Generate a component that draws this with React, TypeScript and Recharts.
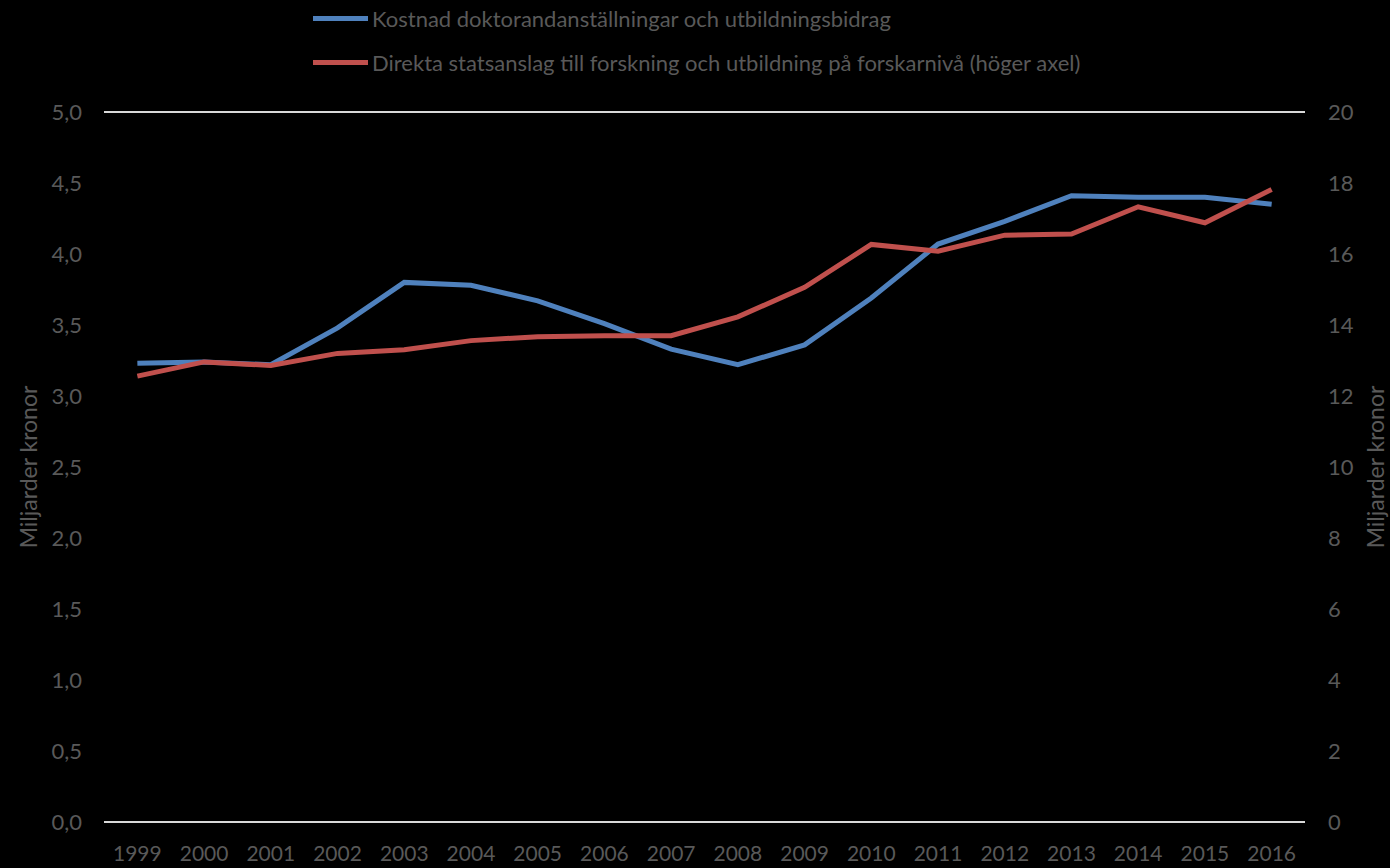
import { LineChart, Line, XAxis, YAxis, CartesianGrid, Legend } from "recharts";

// Values
const years = [
  "1999", "2000", "2001", "2002", "2003", "2004", "2005", "2006", "2007",
  "2008", "2009", "2010", "2011", "2012", "2013", "2014", "2015", "2016",
];

// Left axis, miljarder kronor
const kostnad = [
  3.23, 3.24, 3.22, 3.48, 3.8, 3.78, 3.67, 3.51, 3.33,
  3.22, 3.36, 3.69, 4.07, 4.23, 4.41, 4.4, 4.4, 4.35,
];

// Right axis, miljarder kronor
const statsanslag = [
  12.56, 12.96, 12.86, 13.2, 13.3, 13.56, 13.67, 13.7, 13.7,
  14.23, 15.06, 16.27, 16.08, 16.53, 16.56, 17.33, 16.88, 17.82,
];

const leftTicks = [0, 0.5, 1, 1.5, 2, 2.5, 3, 3.5, 4, 4.5, 5];
const rightTicks = [0, 2, 4, 6, 8, 10, 12, 14, 16, 18, 20];

const seriesNames = [
  "Kostnad doktorandanställningar och utbildningsbidrag",
  "Direkta statsanslag till forskning och utbildning på forskarnivå (höger axel)",
];
const axisTitle = "Miljarder kronor";

const BLUE = "#4F81BD";
const RED = "#C0504D";
const TEXT = "#595959";
const FONT = "Lato, 'Liberation Sans', sans-serif";

const data = years.map((year, i) => ({
  year,
  kostnad: kostnad[i],
  statsanslag: statsanslag[i],
}));

function LegendBox() {
  const items = [
    { name: seriesNames[0], color: BLUE },
    { name: seriesNames[1], color: RED },
  ];
  return (
    <div style={{ fontFamily: FONT, fontSize: 22, color: TEXT }}>
      {items.map((it, i) => (
        <div
          key={it.name}
          style={{ display: "flex", alignItems: "center", height: 36, marginTop: i === 0 ? 0 : 8 }}
        >
          <span
            style={{ display: "inline-block", width: 55, height: 5, background: it.color, marginRight: 4 }}
          />
          <span>{it.name}</span>
        </div>
      ))}
    </div>
  );
}

function AxisTitle({ viewBox, cx }: { viewBox?: any; cx: number }) {
  if (!viewBox) return null;
  const y = viewBox.y + viewBox.height / 2;
  return (
    <text
      x={cx}
      y={y}
      transform={`rotate(-90, ${cx}, ${y})`}
      textAnchor="middle"
      dominantBaseline="central"
      fill={TEXT}
      fontFamily={FONT}
      fontSize={23}
    >
      {axisTitle}
    </text>
  );
}

export default function App() {
  return (
    <div style={{ position: "absolute", left: 0, top: 0, width: 1390, height: 868, background: "#000" }}>
      <LineChart
        width={1390}
        height={868}
        data={data}
        margin={{ top: 112, right: 0, bottom: 6, left: 0 }}
      >
        <CartesianGrid vertical={false} stroke="#D9D9D9" strokeWidth={2} />
        <XAxis
          dataKey="year"
          scale="band"
          height={40}
          tickLine={false}
          axisLine={false}
          interval={0}
          tickMargin={18}
          tick={{ fill: TEXT, fontSize: 21, fontFamily: FONT }}
        />
        <YAxis
          yAxisId="left"
          width={104}
          domain={[0, 5]}
          ticks={leftTicks}
          tickFormatter={(v: number) => v.toFixed(1).replace(".", ",")}
          tickLine={false}
          axisLine={false}
          tickSize={0}
          tickMargin={22}
          tick={{ fill: TEXT, fontSize: 22, fontFamily: FONT }}
          label={<AxisTitle cx={28} />}
        />
        <YAxis
          yAxisId="right"
          orientation="right"
          width={85}
          domain={[0, 20]}
          ticks={rightTicks}
          tickLine={false}
          axisLine={false}
          tickSize={0}
          tickMargin={23}
          tick={{ fill: TEXT, fontSize: 22, fontFamily: FONT, textAnchor: "start" }}
          label={<AxisTitle cx={1375} />}
        />
        <Legend
          layout="horizontal"
          verticalAlign="middle"
          align="center"
          wrapperStyle={{ top: 0, left: 313, width: 1000 }}
          content={() => <LegendBox />}
        />
        <Line
          yAxisId="left"
          dataKey="kostnad"
          name={seriesNames[0]}
          stroke={BLUE}
          strokeWidth={5}
          dot={false}
          type="linear"
          isAnimationActive={false}
        />
        <Line
          yAxisId="right"
          dataKey="statsanslag"
          name={seriesNames[1]}
          stroke={RED}
          strokeWidth={5}
          dot={false}
          type="linear"
          isAnimationActive={false}
        />
      </LineChart>
    </div>
  );
}
